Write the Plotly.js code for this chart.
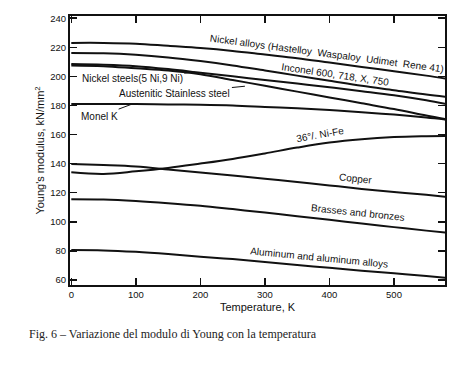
<!DOCTYPE html>
<html>
<head>
<meta charset="utf-8">
<script src="https://cdn.plot.ly/plotly-3.0.1.min.js"></script>
<style>html,body{margin:0;padding:0;background:#fff;}#chart{width:462px;height:369px;}</style>
</head>
<body>
<div id="chart"></div>
<script>
// Temperature, K
var temps = [0, 50, 100, 150, 200, 250, 300, 350, 400, 450, 500, 550, 580];
// Young's modulus, kN/mm^2
var nickelAlloys = [223, 223, 222.5, 221, 219.5, 217.5, 215, 212.5, 209.5, 206.5, 203.5, 200.5, 198.5];
var inconel      = [216, 215.8, 214.8, 213, 210.5, 207.5, 204, 200.5, 197, 193.5, 190.5, 187.5, 186];
var nickelSteels = [208.5, 208, 207, 205, 202.5, 200, 197.5, 195, 192.5, 189.8, 187, 183.5, 181];
var austenitic   = [207.5, 207, 205.5, 204, 201.5, 197.5, 193.5, 189.5, 185.5, 181.5, 177.5, 173, 170.5];
var monelK       = [181, 181, 181, 180.7, 180.5, 180, 179, 178, 176.8, 175.3, 173.7, 171.7, 170.3];
var niFe36       = [134, 132.9, 134.7, 137, 140, 143.2, 147, 151, 154.5, 156.8, 158.2, 158.8, 159];
var copper       = [139.7, 139, 138, 136, 133.8, 131.8, 129.6, 127.3, 125, 122.6, 120.5, 118.5, 117.2];
var brasses      = [115.5, 115.3, 114.3, 112.8, 111, 108.7, 106.3, 103.8, 101.3, 98.8, 96.3, 93.9, 92.5];
var aluminum     = [80.5, 80.3, 79.3, 77.8, 76, 74.3, 72.3, 70.3, 68.3, 66.3, 64.5, 62.7, 61.5];

var xTicks = [0, 100, 200, 300, 400, 500];
var yTicks = [60, 80, 100, 120, 140, 160, 180, 200, 220, 240];

var labelFont = {family: 'Liberation Sans, Arial, sans-serif', size: 10, color: '#111'};

var seriesList = [
  {name: 'Nickel alloys', y: nickelAlloys},
  {name: 'Inconel', y: inconel},
  {name: 'Nickel steels', y: nickelSteels},
  {name: 'Austenitic Stainless steel', y: austenitic},
  {name: 'Monel K', y: monelK},
  {name: '36% Ni-Fe', y: niFe36},
  {name: 'Copper', y: copper},
  {name: 'Brasses and bronzes', y: brasses},
  {name: 'Aluminum and aluminum alloys', y: aluminum}
];

var traces = seriesList.map(function (s) {
  return {
    x: temps, y: s.y, name: s.name, type: 'scatter', mode: 'lines',
    line: {color: '#111', width: 2, shape: 'spline', smoothing: 1},
    hoverinfo: 'x+y+name'
  };
});

var nb = '\u00a0';
var annotations = [
  {x: 396, y: 215.5, text: 'Nickel alloys (Hastelloy' + nb + nb + 'Waspaloy' + nb + nb + 'Udimet' + nb + nb + 'Rene 41)', showarrow: false, textangle: 7.5, font: labelFont},
  {x: 409, y: 201.5, text: 'Inconel 600, 718, X, 750', showarrow: false, textangle: 8.3, font: labelFont},
  {x: 192, y: 202.9, ax: -63, ay: 6, text: 'Nickel steels(5 Ni,9 Ni)', showarrow: true, arrowhead: 0, arrowwidth: 1, arrowcolor: '#111', font: labelFont},
  {x: 269, y: 193.2, ax: -70, ay: 7, text: 'Austenitic Stainless steel', showarrow: true, arrowhead: 0, arrowwidth: 1, arrowcolor: '#111', font: labelFont},
  {x: 94, y: 180.9, ax: -32, ay: 12, text: 'Monel K', showarrow: true, arrowhead: 0, arrowwidth: 1, arrowcolor: '#111', font: labelFont},
  {x: 386, y: 160, text: '36°/. Ni-Fe', showarrow: false, textangle: -10, font: labelFont},
  {x: 440, y: 129.5, text: 'Copper', showarrow: false, textangle: 6, font: labelFont},
  {x: 444, y: 106.5, text: 'Brasses and bronzes', showarrow: false, textangle: 6, font: labelFont},
  {x: 384, y: 75.5, text: 'Aluminum and aluminum alloys', showarrow: false, textangle: 5.5, font: labelFont},
  {xref: 'paper', yref: 'paper', x: -0.115, y: -0.182, xanchor: 'left', yanchor: 'middle',
   text: 'Fig. 6 \u2013 Variazione del modulo di Young con la temperatura', showarrow: false,
   font: {family: 'Liberation Serif, Times New Roman, serif', size: 12, color: '#222'}}
];

var axisCommon = {
  showgrid: false, zeroline: false, showline: true, linecolor: '#111', linewidth: 2,
  mirror: 'ticks', ticks: 'inside', ticklen: 7, tickwidth: 1.5, tickcolor: '#111',
  tickfont: {family: 'Liberation Sans, Arial, sans-serif', size: 9.5, color: '#111'}
};

var layout = {
  width: 462, height: 369,
  margin: {l: 70, r: 17, t: 16, b: 84},
  paper_bgcolor: '#fff', plot_bgcolor: '#fff',
  showlegend: false,
  xaxis: Object.assign({}, axisCommon, {
    range: [-2, 579], tickvals: xTicks, ticktext: xTicks.map(String),
    title: {text: 'Temperature, K', standoff: 4, font: {family: 'Liberation Sans, Arial, sans-serif', size: 11, color: '#111'}}
  }),
  yaxis: Object.assign({}, axisCommon, {
    range: [56.5, 241.5], tickvals: yTicks, ticktext: yTicks.map(String),
    title: {text: "Young's modulus, kN/mm<sup>2</sup>", standoff: 3, font: {family: 'Liberation Sans, Arial, sans-serif', size: 11, color: '#111'}}
  }),
  annotations: annotations
};

Plotly.newPlot('chart', traces, layout, {displayModeBar: false, staticPlot: true});
</script>
</body>
</html>
